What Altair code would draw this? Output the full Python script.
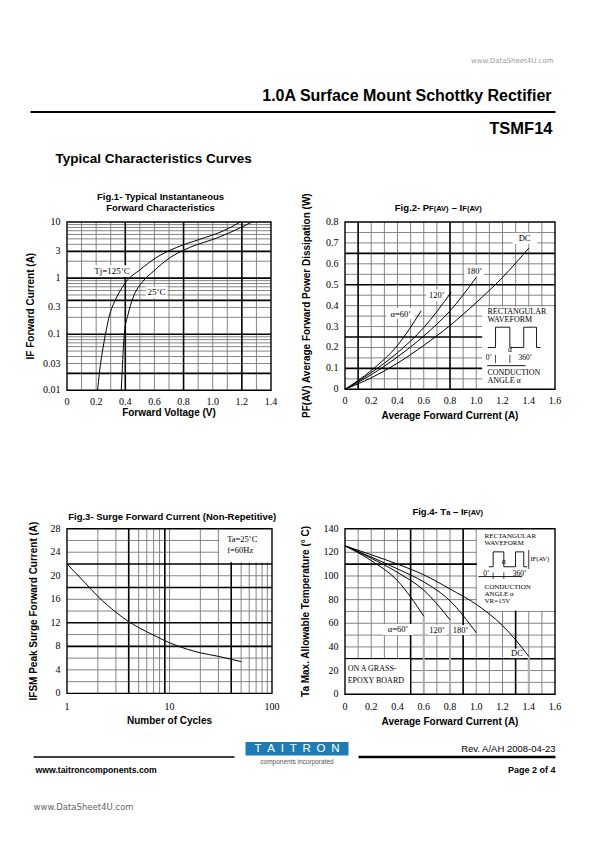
import altair as alt
import pandas as pd

SANS = "Liberation Sans"
SERIF = "Liberation Serif"

# ======================= DATA =======================
# Fig.1 - typical instantaneous forward characteristics (VF [V], IF [A])
fig1_vf_tj125 = [0.210, 0.222, 0.246, 0.270, 0.292, 0.320, 0.349, 0.407, 0.500, 0.610, 0.750, 0.910, 1.070, 1.190]
fig1_if_tj125 = [0.010, 0.020, 0.055, 0.120, 0.220, 0.350, 0.500, 0.870, 1.400, 2.300, 3.500, 4.900, 6.900, 10.00]
fig1_vf_tj25 = [0.372, 0.378, 0.384, 0.395, 0.418, 0.452, 0.520, 0.590, 0.705, 0.840, 1.030, 1.190, 1.270]
fig1_if_tj25 = [0.010, 0.020, 0.042, 0.110, 0.220, 0.440, 0.870, 1.300, 2.300, 3.500, 5.200, 7.900, 10.00]
fig1_x_ticks = [0, 0.2, 0.4, 0.6, 0.8, 1.0, 1.2, 1.4]
fig1_x_labels = ["0", "0.2", "0.4", "0.6", "0.8", "1.0", "1.2", "1.4"]
fig1_y_ticks = [0.01, 0.03, 0.1, 0.3, 1, 3, 10]
fig1_y_labels = ["0.01", "0.03", "0.1", "0.3", "1", "3", "10"]
fig1_x_grid = [0.1, 0.2, 0.3, 0.5, 0.6, 0.7, 0.9, 1.0, 1.1, 1.3]
fig1_x_grid_bold = [0.4, 0.8, 1.2]
fig1_y_grid = [0.03, 0.04, 0.05, 0.06, 0.07, 0.08, 0.09, 0.2, 0.3, 0.5, 0.6, 0.7, 0.8, 0.9, 2, 4, 5, 6, 7, 8, 9]
fig1_y_grid_bold = [0.02, 0.1, 0.4, 1, 3]

# Fig.2 - PF(AV) vs IF(AV)
fig2_i_dc = [0, 0.2, 0.4, 0.6, 0.8, 1.0, 1.2, 1.4]
fig2_p_dc = [0, 0.055, 0.125, 0.21, 0.305, 0.415, 0.535, 0.675]
fig2_i_180 = [0, 0.2, 0.4, 0.6, 0.8, 1.0]
fig2_p_180 = [0, 0.07, 0.155, 0.255, 0.375, 0.535]
fig2_i_120 = [0, 0.2, 0.4, 0.6, 0.81]
fig2_p_120 = [0, 0.08, 0.175, 0.295, 0.465]
fig2_i_60 = [0, 0.2, 0.4, 0.58]
fig2_p_60 = [0, 0.09, 0.21, 0.375]
fig2_x_ticks = [0, 0.2, 0.4, 0.6, 0.8, 1.0, 1.2, 1.4, 1.6]
fig2_x_labels = ["0", "0.2", "0.4", "0.6", "0.8", "1.0", "1.2", "1.4", "1.6"]
fig2_y_ticks = [0, 0.1, 0.2, 0.3, 0.4, 0.5, 0.6, 0.7, 0.8]
fig2_y_labels = ["0", "0.1", "0.2", "0.3", "0.4", "0.5", "0.6", "0.7", "0.8"]
fig2_x_grid = [0.2, 0.3, 0.4, 0.5, 0.6, 0.7, 0.9, 1.0, 1.1, 1.2, 1.3, 1.4, 1.5]
fig2_x_grid_bold = [0.1, 0.8]
fig2_y_grid = [0.05, 0.15, 0.2, 0.3, 0.35, 0.4, 0.45, 0.55, 0.6, 0.7, 0.75]
fig2_y_grid_bold = [0.1, 0.25, 0.5, 0.65]
fig2_labels = ["DC", "180˚", "120˚", "α=60˚"]
fig2_label_i = [1.368, 0.987, 0.70, 0.425]
fig2_label_p = [0.722, 0.568, 0.449, 0.362]
fig2_wave_i = [1.088, 1.147, 1.147, 1.256, 1.256, 1.362, 1.362, 1.459, 1.459, 1.49]
fig2_wave_p = [0.20, 0.20, 0.297, 0.297, 0.20, 0.20, 0.297, 0.297, 0.20, 0.20]

# Fig.3 - surge forward current
fig3_cycles = [1, 1.5, 2, 3, 4, 5, 7, 10, 15, 20, 30, 40, 50]
fig3_ifsm = [22.0, 18.8, 16.5, 13.8, 12.2, 11.2, 9.9, 8.6, 7.5, 6.9, 6.3, 5.8, 5.4]
fig3_x_ticks = [1, 10, 100]
fig3_x_labels = ["1", "10", "100"]
fig3_y_ticks = [0, 4, 8, 12, 16, 20, 24, 28]
fig3_y_labels = ["0", "4", "8", "12", "16", "20", "24", "28"]
fig3_x_grid = [2, 3, 5, 6, 7, 8, 10, 20, 30, 50, 60, 70, 80, 90]
fig3_x_grid_bold = [4, 9, 40]
fig3_y_grid = [2, 4, 6, 10, 14, 16, 20, 24, 26]
fig3_y_grid_bold = [8, 12, 18, 22]

# Fig.4 - Ta vs IF(AV)
fig4_i_dc = [0, 0.2, 0.4, 0.6, 0.8, 1.0, 1.2, 1.3, 1.4]
fig4_t_dc = [125.5, 118, 110, 101, 89, 76, 58, 46, 32]
fig4_i_180 = [0, 0.2, 0.4, 0.6, 0.8, 1.0]
fig4_t_180 = [125.5, 116, 106, 95, 79, 52]
fig4_i_120 = [0, 0.2, 0.4, 0.6, 0.8]
fig4_t_120 = [125.5, 115, 103, 88, 63]
fig4_i_60 = [0, 0.2, 0.4, 0.6]
fig4_t_60 = [125.5, 113, 96, 66]
fig4_x_ticks = [0, 0.2, 0.4, 0.6, 0.8, 1.0, 1.2, 1.4, 1.6]
fig4_x_labels = ["0", "0.2", "0.4", "0.6", "0.8", "1.0", "1.2", "1.4", "1.6"]
fig4_y_ticks = [0, 20, 40, 60, 80, 100, 120, 140]
fig4_y_labels = ["0", "20", "40", "60", "80", "100", "120", "140"]
fig4_x_grid = [0.1, 0.2, 0.3, 0.4, 0.6, 0.7, 0.8, 1.0, 1.1, 1.2, 1.4, 1.5]
fig4_x_grid_bold = [0.5, 0.9, 1.3]
fig4_y_grid = [10, 20, 40, 50, 60, 70, 80, 90, 100, 120, 130]
fig4_y_grid_bold = [30, 110]
fig4_labels = ["α=60˚", "120˚", "180˚", "DC"]
fig4_label_i = [0.404, 0.702, 0.88, 1.31]
fig4_label_t = [54.8, 54, 54, 34.5]
fig4_wave_i = [1.096, 1.129, 1.129, 1.21, 1.21, 1.299, 1.299, 1.362, 1.362, 1.388]
fig4_wave_t = [107.8, 107.8, 120.4, 120.4, 107.8, 107.8, 120.4, 120.4, 107.8, 107.8]

# ======================= LAYOUT (page pixels) =======================
F1 = dict(left=66.5, top=221.0, w=204, h=168.3)
F2 = dict(left=344.5, top=221.0, w=210, h=167.3)
F3 = dict(left=66.5, top=527.0, w=205, h=164.7)
F4 = dict(left=344.5, top=527.0, w=210, h=165.5)

THIN = dict(color="#777777", strokeWidth=0.9)
BOLD = dict(color="#000000", strokeWidth=1.6)
ONE = pd.DataFrame({"k": [0]})


def series_df(series):
    rows = []
    for name, xs, ys in series:
        for i, (a, b) in enumerate(zip(xs, ys)):
            rows.append({"s": name, "i": i, "x": a, "y": b})
    return pd.DataFrame(rows)


def EX(field, X):
    return alt.X(field, scale=X, axis=None)


def EY(field, Y):
    return alt.Y(field, scale=Y, axis=None)


def curves(series, X, Y):
    return alt.Chart(series_df(series)).mark_line(
        color="black", strokeWidth=1.0, interpolate="monotone").encode(
        x=EX("x:Q", X), y=EY("y:Q", Y), detail="s:N", order="i:Q")


def rules_x(vals, X, style):
    return alt.Chart(pd.DataFrame({"v": vals})).mark_rule(**style).encode(x=EX("v:Q", X))


def rules_y(vals, Y, style):
    return alt.Chart(pd.DataFrame({"v": vals})).mark_rule(**style).encode(y=EY("v:Q", Y))


def x_tick_labels(vals, labs, X, o, dy):
    return alt.Chart(pd.DataFrame({"v": vals, "t": labs})).mark_text(
        font=SERIF, fontSize=10, align="center", baseline="middle", color="black").encode(
        x=EX("v:Q", X), y=alt.value(o["h"] + dy), text="t:N")


def y_tick_labels(vals, labs, Y, dx=-6.5):
    return alt.Chart(pd.DataFrame({"v": vals, "t": labs})).mark_text(
        font=SERIF, fontSize=10, align="right", baseline="middle", color="black").encode(
        y=EY("v:Q", Y), x=alt.value(dx), text="t:N")


def dpath(xs, ys, X, Y, width=0.9):
    rows = [{"i": i, "x": a, "y": b} for i, (a, b) in enumerate(zip(xs, ys))]
    return alt.Chart(pd.DataFrame(rows)).mark_line(
        color="black", strokeWidth=width, interpolate="linear").encode(
        x=EX("x:Q", X), y=EY("y:Q", Y), order="i:Q")


def boxes(x1, x2, y1, y2, X, Y):
    return alt.Chart(pd.DataFrame({"x1": x1, "x2": x2, "y1": y1, "y2": y2})).mark_rect(
        color="white").encode(x=EX("x1:Q", X), x2="x2:Q", y=EY("y1:Q", Y), y2="y2:Q")


def dtext(xs, ys, ts, X, Y, size, align="center"):
    return alt.Chart(pd.DataFrame({"x": xs, "y": ys, "t": ts})).mark_text(
        font=SERIF, fontSize=size, align=align, baseline="middle", color="black").encode(
        x=EX("x:Q", X), y=EY("y:Q", Y), text="t:N")


def vsegs(xs, y1s, y2s, X, Y, color="black", width=0.9):
    return alt.Chart(pd.DataFrame({"x": xs, "y1": y1s, "y2": y2s})).mark_rule(
        color=color, strokeWidth=width).encode(x=EX("x:Q", X), y=EY("y1:Q", Y), y2="y2:Q")


def hseg(x1, x2, y, X, Y, width=0.9):
    return alt.Chart(pd.DataFrame({"x1": [x1], "x2": [x2], "y": [y]})).mark_rule(
        color="black", strokeWidth=width).encode(x=EX("x1:Q", X), x2="x2:Q", y=EY("y:Q", Y))


def ltext(t, x, y, size, weight="normal", font=SANS, align="left",
          color="black", baseline="middle", angle=0):
    # text placed in pixels relative to a panel's plot origin
    return alt.Chart(pd.DataFrame({"t": [t]})).mark_text(
        font=font, fontSize=size, fontWeight=weight, align=align,
        baseline=baseline, color=color, angle=angle).encode(
        x=alt.value(x), y=alt.value(y), text="t:N")


def ptext(t, xp, yp, o, size, **kw):
    return ltext(t, xp - o["left"], yp - o["top"], size, **kw)


def prule(x1, x2, y1, y2, o, width, color="black"):
    return alt.Chart(ONE).mark_rule(color=color, strokeWidth=width).encode(
        x=alt.value(x1 - o["left"]), x2=alt.value(x2 - o["left"]),
        y=alt.value(y1 - o["top"]), y2=alt.value(y2 - o["top"]))


def prect(x1, x2, y1, y2, o, color):
    return alt.Chart(ONE).mark_rect(color=color).encode(
        x=alt.value(x1 - o["left"]), x2=alt.value(x2 - o["left"]),
        y=alt.value(y1 - o["top"]), y2=alt.value(y2 - o["top"]))


def frame(o):
    return alt.Chart(ONE).mark_rect(fill="white", fillOpacity=0, stroke="black", strokeWidth=1.4).encode(
        x=alt.value(0), x2=alt.value(o["w"]), y=alt.value(0), y2=alt.value(o["h"]))


def axes(o, X, Y, xt, xl, yt, yl, xtitle, ytitle, x_lab_dy, x_title_dy, y_title_dx):
    return [
        x_tick_labels(xt, xl, X, o, x_lab_dy),
        y_tick_labels(yt, yl, Y),
        ltext(xtitle, o["w"] / 2, o["h"] + x_title_dy, 10, "bold", align="center"),
        ltext(ytitle, y_title_dx, o["h"] / 2, 10, "bold", align="center", angle=270),
    ]


def base_grid(X, Y, xg, xgb, yg, ygb):
    return [rules_x(xg, X, THIN), rules_y(yg, Y, THIN),
            rules_x(xgb, X, BOLD), rules_y(ygb, Y, BOLD)]


# ======================= FIG 1 =======================
X1 = alt.Scale(domain=[0, 1.4], nice=False, zero=False)
Y1 = alt.Scale(type="log", domain=[0.01, 10], nice=False)
fig1_series = [("125", fig1_vf_tj125, fig1_if_tj125), ("25", fig1_vf_tj25, fig1_if_tj25)]
fig1_layers = base_grid(X1, Y1, fig1_x_grid, fig1_x_grid_bold, fig1_y_grid, fig1_y_grid_bold)
fig1_layers += [
    boxes([0.175, 0.54], [0.445, 0.69], [1.05, 0.44], [1.70, 0.71], X1, Y1),
    curves(fig1_series, X1, Y1),
    dtext([0.309, 0.614], [1.34, 0.565], ["Tj=125˚C", "25˚C"], X1, Y1, 9),
    frame(F1),
]
fig1_layers += axes(F1, X1, Y1, fig1_x_ticks, fig1_x_labels, fig1_y_ticks, fig1_y_labels,
                    "Forward Voltage (V)", "IF Forward Current (A)", 11.5, 23, -36.5)
fig1_layers += [
    ptext("Fig.1- Typical Instantaneous", 160, 196, F1, 9.5, weight="bold", align="center"),
    ptext("Forward Characteristics", 160, 206.7, F1, 9.5, weight="bold", align="center"),
    # page header
    prule(8, 9, 8, 8, F1, 1, "white"),
    ptext("www.DataSheet4U.com", 553, 60, F1, 7, font="DejaVu Sans", align="right", color="#9a9a9a"),
    ptext("1.0A Surface Mount Schottky Rectifier", 551, 95, F1, 16, weight="bold", align="right"),
    prule(30, 555, 111, 111, F1, 2),
    ptext("TSMF14", 552, 128, F1, 16.5, weight="bold", align="right"),
    ptext("Typical Characteristics Curves", 55, 158, F1, 13.5, weight="bold"),
    # page footer
    prule(33, 234, 756, 756, F1, 1.3),
    prule(358, 555, 756, 756, F1, 2.5),
    prect(245, 348, 741, 754.5, F1, "#1f7bb4"),
    ptext("T\u2002A\u2002I\u2002T\u2002R\u2002O\u2002N", 296.5, 748, F1, 11.5, align="center", color="white"),
    ptext("components incorporated", 296.5, 760.5, F1, 6.5, align="center", color="#555555"),
    ptext("Rev. A/AH 2008-04-23", 555, 748, F1, 9.5, align="right"),
    ptext("www.taitroncomponents.com", 35, 769, F1, 8.7, weight="bold"),
    ptext("Page 2 of 4", 555, 769, F1, 9, weight="bold", align="right"),
    ptext("www.DataSheet4U.com", 33, 806, F1, 8.5, font="DejaVu Sans", color="#666666"),
]
fig1 = alt.layer(*fig1_layers).properties(width=F1["w"], height=F1["h"])

# ======================= FIG 2 =======================
X2 = alt.Scale(domain=[0, 1.6], nice=False, zero=False)
Y2 = alt.Scale(domain=[0, 0.8], nice=False, zero=False)
fig2_series = [("dc", fig2_i_dc, fig2_p_dc), ("180", fig2_i_180, fig2_p_180),
               ("120", fig2_i_120, fig2_p_120), ("60", fig2_i_60, fig2_p_60)]
fig2_layers = base_grid(X2, Y2, fig2_x_grid, fig2_x_grid_bold, fig2_y_grid, fig2_y_grid_bold)
fig2_layers += [
    boxes([1.277, 0.91, 0.62, 0.316, 1.045], [1.467, 1.06, 0.78, 0.53, 1.6],
          [0.695, 0.542, 0.422, 0.336, 0.0], [0.748, 0.594, 0.475, 0.389, 0.395], X2, Y2),
    curves(fig2_series, X2, Y2),
    dtext(fig2_label_i, fig2_label_p, fig2_labels, X2, Y2, 8.5),
    dtext([1.085, 1.085, 1.085, 1.085], [0.37, 0.329, 0.078, 0.04],
          ["RECTANGULAR", "WAVEFORM", "CONDUCTION", "ANGLE α"], X2, Y2, 8, align="left"),
    dpath(fig2_wave_i, fig2_wave_p, X2, Y2),
    hseg(1.083, 1.376, 0.113, X2, Y2),
    vsegs([1.147, 1.256], [0.125, 0.125], [0.165, 0.165], X2, Y2, width=0.7),
    dtext([1.096, 1.256, 1.375], [0.15, 0.19, 0.15], ["0˚", "α", "360˚"], X2, Y2, 7.5),
    frame(F2),
]
fig2_layers += axes(F2, X2, Y2, fig2_x_ticks, fig2_x_labels, fig2_y_ticks, fig2_y_labels,
                    "Average Forward Current (A)", "PF(AV) Average Forward Power Dissipation (W)",
                    12, 27, -38.5)
fig2_layers += [
    ptext("Fig.2- P", 394.3, 210, F2, 9.5, weight="bold", baseline="alphabetic"),
    ptext("F(AV)", 428.6, 210, F2, 7.5, weight="bold", baseline="alphabetic"),
    ptext("– I", 451.2, 210, F2, 9.5, weight="bold", baseline="alphabetic"),
    ptext("F(AV)", 461.8, 210, F2, 7.5, weight="bold", baseline="alphabetic"),
]
fig2 = alt.layer(*fig2_layers).properties(width=F2["w"], height=F2["h"])

# ======================= FIG 3 =======================
X3 = alt.Scale(type="log", domain=[1, 100], nice=False)
Y3 = alt.Scale(domain=[0, 28], nice=False, zero=False)
fig3_series = [("ifsm", fig3_cycles, fig3_ifsm)]
fig3_layers = base_grid(X3, Y3, fig3_x_grid, fig3_x_grid_bold, fig3_y_grid, fig3_y_grid_bold)
fig3_layers += [
    boxes([30.5], [100], [22.3], [28], X3, Y3),
    curves(fig3_series, X3, Y3),
    dtext([36.5, 36.5], [26.2, 24.3], ["Ta=25˚C", "f=60Hz"], X3, Y3, 8.5, align="left"),
    frame(F3),
]
fig3_layers += axes(F3, X3, Y3, fig3_x_ticks, fig3_x_labels, fig3_y_ticks, fig3_y_labels,
                    "Number of Cycles", "IFSM Peak Surge Forward Current (A)", 14, 28, -33.5)
fig3_layers += [
    ptext("Fig.3- Surge Forward Current (Non-Repetitive)", 171.7, 515, F3, 9.5,
          weight="bold", align="center"),
]
fig3 = alt.layer(*fig3_layers).properties(width=F3["w"], height=F3["h"])

# ======================= FIG 4 =======================
X4 = alt.Scale(domain=[0, 1.6], nice=False, zero=False)
Y4 = alt.Scale(domain=[0, 140], nice=False, zero=False)
fig4_series = [("dc", fig4_i_dc, fig4_t_dc), ("180", fig4_i_180, fig4_t_180),
               ("120", fig4_i_120, fig4_t_120), ("60", fig4_i_60, fig4_t_60)]
fig4_layers = base_grid(X4, Y4, fig4_x_grid, fig4_x_grid_bold, fig4_y_grid, fig4_y_grid_bold)
fig4_layers += [
    boxes([0.0, 1.005, 0.29, 0.635, 0.815, 1.255], [0.495, 1.6, 0.52, 0.775, 0.955, 1.36],
          [0.0, 70.5, 50, 50, 50, 30.5], [29.5, 140, 59.5, 58.5, 58.5, 38.5], X4, Y4),
    vsegs([0.6, 0.8, 1.4], [0, 0, 0], [66, 63, 32], X4, Y4, color="#b0b0b0", width=2),
    curves(fig4_series, X4, Y4),
    dtext(fig4_label_i, fig4_label_t, fig4_labels, X4, Y4, 8.5),
    dtext([0.02, 0.02], [21.7, 11.1], ["ON A GRASS-", "EPOXY BOARD"], X4, Y4, 8, align="left"),
    dtext([1.063, 1.063, 1.063, 1.063, 1.063], [134.0, 127.6, 91.0, 85.0, 79.0],
          ["RECTANGULAR", "WAVEFORM", "CONDUCTION", "ANGLE α", "VR=15V"], X4, Y4, 7, align="left"),
    dpath(fig4_wave_i, fig4_wave_t, X4, Y4),
    vsegs([1.40], [106], [122], X4, Y4, width=0.8),
    dtext([1.413], [114.2], ["IF(AV)"], X4, Y4, 6.5, align="left"),
    hseg(1.017, 1.35, 99.5, X4, Y4),
    vsegs([1.129, 1.21], [97.5, 97.5], [103, 103], X4, Y4, width=0.7),
    dtext([1.078, 1.21, 1.33], [101.5, 112, 101.5], ["0˚", "α", "360˚"], X4, Y4, 7.5),
    frame(F4),
]
fig4_layers += axes(F4, X4, Y4, fig4_x_ticks, fig4_x_labels, fig4_y_ticks, fig4_y_labels,
                    "Average Forward Current (A)", "Ta Max. Allowable Temperature (° C)",
                    13, 28, -39.5)
fig4_layers += [
    ptext("Fig.4- T", 411.9, 513.5, F4, 9.5, weight="bold", baseline="alphabetic"),
    ptext("a", 445.7, 513.5, F4, 7.5, weight="bold", baseline="alphabetic"),
    ptext("– I", 452.5, 513.5, F4, 9.5, weight="bold", baseline="alphabetic"),
    ptext("F(AV)", 463.1, 513.5, F4, 7.5, weight="bold", baseline="alphabetic"),
]
fig4 = alt.layer(*fig4_layers).properties(width=F4["w"], height=F4["h"])

# ======================= PAGE =======================
row_gap = F3["top"] - (F1["top"] + max(F1["h"], F2["h"]))
col_gap = F2["left"] - F1["left"] - max(F1["w"], F3["w"])
chart = alt.concat(fig1, fig2, fig3, fig4, columns=2).properties(
    spacing=alt.RowColnumber(row=row_gap, column=col_gap),
    bounds="flush", align="each", padding=0, background="white")

chart = chart.configure(font=SANS).configure_view(stroke=None)

chart.save("out.html", embed_options={"renderer": "svg", "actions": False})
